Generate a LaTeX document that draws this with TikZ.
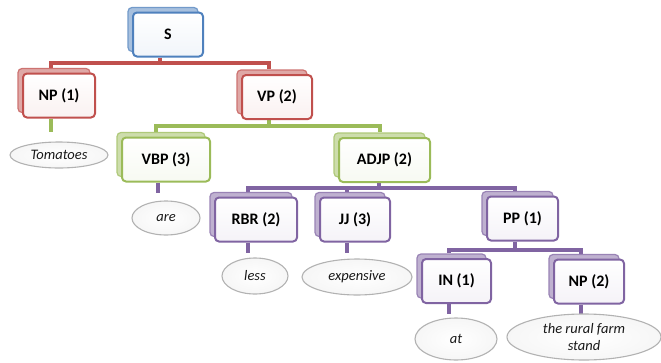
\documentclass[tikz,border=0pt]{standalone}
\usepackage{fontspec}
\setmainfont{Carlito}
\usetikzlibrary{calc,shapes.geometric}
\pgfdeclarelayer{bg}
\pgfsetlayers{bg,main}

\definecolor{ofRed}{HTML}{C0504D}
\definecolor{ofGreen}{HTML}{9BBB59}
\definecolor{ofPurple}{HTML}{8064A2}
\definecolor{ofBlue}{HTML}{4F81BD}

\tikzset{
  tag/.style={rectangle, rounded corners=4pt, line width=2pt, draw=#1,
    top color=white, bottom color=#1!8, minimum height=44pt, inner sep=0pt,
    font=\fontsize{16}{19}\selectfont\bfseries, text=black},
  tagback/.style={rectangle, rounded corners=4pt, line width=1.2pt, draw=#1!80,
    fill=#1!50, minimum height=44pt, inner sep=0pt},
  leaf/.style={ellipse, draw=gray!60, line width=1.1pt, inner color=white,
    outer color=gray!7, inner sep=0pt, align=center,
    font=\fontsize{14.5}{17}\selectfont\itshape, text=black!90},
  wire/.style={line width=4pt, draw=#1},
}

% tree box with a stacked copy behind it: name, colour, width, centre, label
\newcommand\tagbox[5]{%
  \node[tagback=#2, minimum width=#3] (#1-back) at ($#4+(-5,-5)$) {};
  \node[tag=#2, minimum width=#3] (#1) at #4 {#5};
}

\begin{document}
\begin{tikzpicture}[x=1pt,y=-1pt]
\useasboundingbox (0,0) rectangle (661,362);

% phrase boxes
\tagbox{s}{ofBlue}{70pt}{(168,34.5)}{S}
\tagbox{np1}{ofRed}{72pt}{(59,95.5)}{NP (1)}
\tagbox{vp}{ofRed}{70pt}{(277,97)}{VP (2)}
\tagbox{vbp}{ofGreen}{88pt}{(166,159.5)}{VBP (3)}
\tagbox{adjp}{ofGreen}{91pt}{(384.5,160)}{ADJP (2)}
\tagbox{rbr}{ofPurple}{82pt}{(256,219.5)}{RBR (2)}
\tagbox{jj}{ofPurple}{70pt}{(355,219.5)}{JJ (3)}
\tagbox{pp}{ofPurple}{71pt}{(522.5,218.5)}{PP (1)}
\tagbox{in}{ofPurple}{69pt}{(456.5,281)}{IN (1)}
\tagbox{np2}{ofPurple}{70pt}{(589,281.5)}{NP (2)}

% words
\node[leaf, minimum width=98pt, minimum height=26pt] (tom) at (59,155) {Tomatoes};
\node[leaf, minimum width=68pt, minimum height=34pt] (are) at (166,218) {are};
\node[leaf, minimum width=66pt, minimum height=36pt] (less) at (255,276) {less};
\node[leaf, minimum width=110pt, minimum height=36pt] (exp) at (357,277) {expensive};
\node[leaf, minimum width=82pt, minimum height=42pt] (at) at (456,339) {at};
\node[leaf, minimum width=154pt, minimum height=46pt] (stand) at (584,337) {the rural farm\\stand};

\begin{pgfonlayer}{bg}
  % S level
  \draw[wire=ofRed] ($(s.south)+(-8,0)$) -- ++(0,5) -| ($(np1.north)+(-8,-5)$);
  \draw[wire=ofRed] ($(s.south)+(-8,0)$) -- ++(0,5) -| ($(vp.north)+(-8,-5)$);
  % VP level
  \draw[wire=ofGreen] ($(vp.south)+(-8,0)$) -- ++(0,6) -| ($(vbp.north)+(-10,-5)$);
  \draw[wire=ofGreen] ($(vp.south)+(-8,0)$) -- ++(0,6) -| ($(adjp.north)+(-5,-5)$);
  % ADJP level
  \draw[wire=ofPurple] ($(adjp.south)+(-6,0)$) -- ++(0,5) -| ($(rbr.north)+(-8,-5)$);
  \draw[wire=ofPurple] ($(adjp.south)+(-6,0)$) -- ++(0,5) -| ($(jj.north)+(-8,-5)$);
  \draw[wire=ofPurple] ($(adjp.south)+(-6,0)$) -- ++(0,5) -| ($(pp.north)+(-8,-5)$);
  % PP level
  \draw[wire=ofPurple] ($(pp.south)+(-8,0)$) -- ++(0,8) -| ($(in.north)+(-8,-5)$);
  \draw[wire=ofPurple] ($(pp.south)+(-8,0)$) -- ++(0,8) -| ($(np2.north)+(-8,-5)$);
  % stems down to the words
  \draw[wire=ofGreen] ($(np1.south)+(-8,0)$) -- ++(0,13);
  \draw[wire=ofPurple] ($(vbp.south)+(-8,0)$) -- ++(0,10);
  \draw[wire=ofPurple] ($(rbr.south)+(-8,0)$) -- ++(0,10);
  \draw[wire=ofPurple] ($(jj.south)+(-8,0)$) -- ++(0,10);
  \draw[wire=ofPurple] ($(in.south)+(-8,0)$) -- ++(0,10);
  \draw[wire=ofPurple] ($(np2.south)+(-8,0)$) -- ++(0,9);
\end{pgfonlayer}
\end{tikzpicture}
\end{document}
